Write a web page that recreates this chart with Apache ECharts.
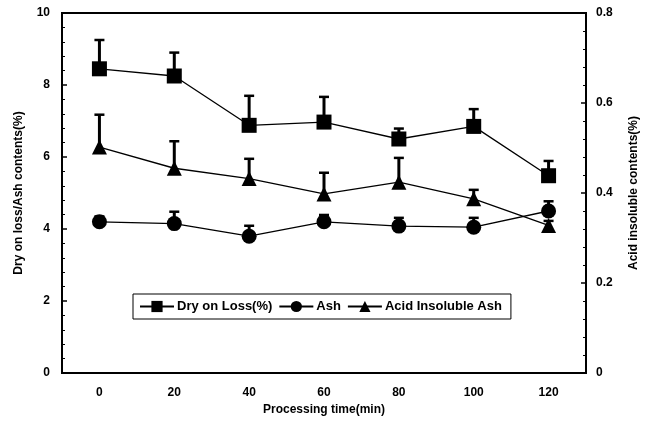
<!DOCTYPE html>
<html><head><meta charset="utf-8">
<script src="https://cdn.jsdelivr.net/npm/echarts@6/dist/echarts.min.js"></script>
<style>html,body{margin:0;padding:0;background:#fff}#c{width:650px;height:430px}</style>
</head><body><div id="c"></div>
<script>
const categories = ['0','20','40','60','80','100','120'];
const dryLoss   = [8.45, 8.25, 6.88, 6.97, 6.50, 6.85, 5.48];
const dryLossSD = [0.80, 0.65, 0.82, 0.70, 0.29, 0.48, 0.41];
const ash       = [4.20, 4.15, 3.80, 4.20, 4.08, 4.05, 4.50];
const ashSD     = [0.15, 0.33, 0.29, 0.19, 0.23, 0.26, 0.27];
const acidAsh   = [0.502, 0.455, 0.432, 0.398, 0.424, 0.387, 0.328];
const acidAshSD = [0.072, 0.060, 0.044, 0.047, 0.054, 0.020, 0.010];
const leftTicks = [0, 2, 4, 6, 8, 10];
const rightTicks = [0, 0.2, 0.4, 0.6, 0.8];

const FONT = 'Liberation Sans';
function errData(vals, sds){ return vals.map((v,i)=>[i, v, v+sds[i]]); }
function renderErr(params, api){
  const c = api.coord([api.value(0), api.value(1)]);
  const t = api.coord([api.value(0), api.value(2)]);
  return {type:'group', children:[
    {type:'line', shape:{x1:c[0],y1:c[1],x2:t[0],y2:t[1]}, style:{stroke:'#000', lineWidth:3}},
    {type:'line', shape:{x1:t[0]-5,y1:t[1],x2:t[0]+5,y2:t[1]}, style:{stroke:'#000', lineWidth:2.5}}
  ]};
}
const lineStyle = {color:'#000', width:1.3};
const chart = echarts.init(document.getElementById('c'), null, {renderer:'canvas'});
chart.setOption({
  animation:false,
  backgroundColor:'#fff',
  textStyle:{fontFamily:FONT},
  grid:{left:62, right:64, top:13, bottom:57, show:true, borderColor:'#000', borderWidth:2, backgroundColor:'transparent'},
  legend:{
    data:['Dry on Loss(%)','Ash','Acid Insoluble Ash'],
    left:133, top:294, orient:'horizontal',
    itemWidth:34, itemHeight:14, itemGap:6,
    padding:[6,9,6,6],
    borderColor:'#000', borderWidth:1,
    textStyle:{fontFamily:FONT, fontWeight:'bold', fontSize:13, color:'#000', padding:[0,0,0,-2]}
  },
  xAxis:{
    type:'category', data:categories, boundaryGap:true,
    name:'Processing time(min)', nameLocation:'middle', nameGap:29,
    nameTextStyle:{fontFamily:FONT, fontWeight:'bold', fontSize:12, color:'#000'},
    axisLine:{lineStyle:{color:'#000', width:2}},
    axisTick:{inside:true, length:5, lineStyle:{color:'#000', width:1.5}},
    axisLabel:{fontFamily:FONT, fontWeight:'bold', fontSize:12, color:'#000', margin:14},
    splitLine:{show:false}
  },
  yAxis:[{
    type:'value', min:0, max:10, interval:2, position:'left',
    name:'Dry on loss/Ash contents(%)', nameLocation:'middle', nameGap:37,
    nameTextStyle:{fontFamily:FONT, fontWeight:'bold', fontSize:12, color:'#000'},
    axisLine:{show:true, lineStyle:{color:'#000', width:2}},
    axisTick:{show:true, inside:true, length:5, lineStyle:{color:'#000', width:1.5}},
    minorTick:{show:true, splitNumber:5, length:3, lineStyle:{color:'#000', width:1}},
    axisLabel:{fontFamily:FONT, fontWeight:'bold', fontSize:12, color:'#000', margin:12,
      formatter:v=>leftTicks.includes(v)?String(v):''},
    splitLine:{show:false}
  },{
    type:'value', min:0, max:0.8, interval:0.2, position:'right',
    name:'Acid insoluble contents(%)', nameLocation:'middle', nameGap:42,
    nameTextStyle:{fontFamily:FONT, fontWeight:'bold', fontSize:12, color:'#000'},
    axisLine:{show:true, lineStyle:{color:'#000', width:2}},
    axisTick:{show:true, inside:true, length:5, lineStyle:{color:'#000', width:1.5}},
    minorTick:{show:true, splitNumber:5, length:3, lineStyle:{color:'#000', width:1}},
    axisLabel:{fontFamily:FONT, fontWeight:'bold', fontSize:12, color:'#000', margin:10,
      formatter:v=>{const r=Math.round(v*10)/10; return rightTicks.includes(r)?(r===0?'0':r.toFixed(1)):'';}},
    splitLine:{show:false}
  }],
  series:[
    {type:'custom', name:'errDry', xAxisIndex:0, yAxisIndex:0, renderItem:renderErr, data:errData(dryLoss,dryLossSD), z:1},
    {type:'custom', name:'errAsh', xAxisIndex:0, yAxisIndex:0, renderItem:renderErr, data:errData(ash,ashSD), z:1},
    {type:'custom', name:'errAcid', xAxisIndex:0, yAxisIndex:1, renderItem:renderErr, data:errData(acidAsh,acidAshSD), z:1},
    {type:'line', name:'Dry on Loss(%)', yAxisIndex:0, data:dryLoss, symbol:'rect', symbolSize:15,
      itemStyle:{color:'#000'}, lineStyle:lineStyle, z:3},
    {type:'line', name:'Ash', yAxisIndex:0, data:ash, symbol:'circle', symbolSize:15,
      itemStyle:{color:'#000'}, lineStyle:lineStyle, z:3},
    {type:'line', name:'Acid Insoluble Ash', yAxisIndex:1, data:acidAsh, symbol:'triangle', symbolSize:15,
      itemStyle:{color:'#000'}, lineStyle:lineStyle, z:3}
  ]
});
</script></body></html>
